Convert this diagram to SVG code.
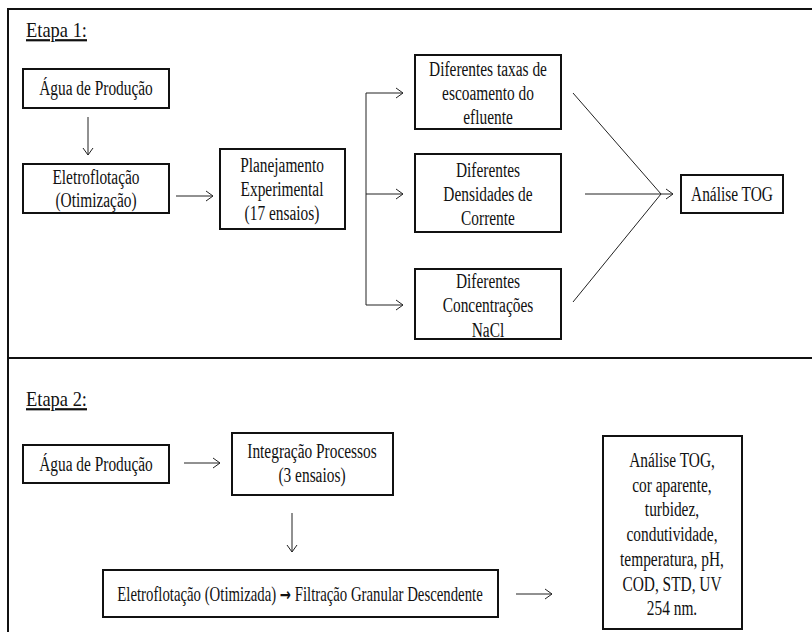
<svg xmlns="http://www.w3.org/2000/svg" width="812" height="632" viewBox="0 0 812 632">
<defs>
<marker id="ah" markerUnits="userSpaceOnUse" markerWidth="10" markerHeight="12" refX="8" refY="6" orient="auto">
<path d="M1,1 L8,6 L1,11" fill="none" stroke="#222" stroke-width="1"/>
</marker>
<style>
.box{fill:none;stroke:#111;stroke-width:2}
.t{font-family:'Liberation Serif','Times New Roman',serif;font-size:20px;fill:#111;text-anchor:middle}
.lbl{font-family:'Liberation Serif','Times New Roman',serif;font-size:22px;fill:#111;text-decoration:underline}
.c{fill:none;stroke:#222;stroke-width:1}
.frame{fill:none;stroke:#111;stroke-width:2}
</style>
</defs>
<rect width="812" height="632" fill="#fff"/>
<path class="frame" d="M8,632 V9 H813 M8,358 H813"/>
<text class="lbl" x="26" y="37" transform="translate(4.16,0) scale(0.84,1)">Etapa 1:</text>
<text class="lbl" x="26" y="406" transform="translate(4.16,0) scale(0.84,1)">Etapa 2:</text>

<g id="e1-agua">
<text class="t" x="96" y="95" transform="translate(22.08,0) scale(0.77,1)">Água de Produção</text>
<rect class="box" x="23" y="69" width="146" height="39"/>
</g>
<g id="e1-eletro">
<text class="t" transform="translate(22.08,0) scale(0.77,1)"><tspan x="96" y="184">Eletroflotação</tspan><tspan x="96" y="207">(Otimização)</tspan></text>
<rect class="box" x="23" y="164" width="146" height="49"/>
</g>
<g id="e1-planej">
<text class="t" transform="translate(64.86,0) scale(0.77,1)"><tspan x="282" y="172">Planejamento</tspan><tspan x="282" y="196">Experimental</tspan><tspan x="282" y="220">(17 ensaios)</tspan></text>
<rect class="box" x="220" y="149" width="125" height="80"/>
</g>
<g id="e1-taxas">
<text class="t" transform="translate(112.24,0) scale(0.77,1)"><tspan x="488" y="76">Diferentes taxas de</tspan><tspan x="488" y="100">escoamento do</tspan><tspan x="488" y="124">efluente</tspan></text>
<rect class="box" x="415" y="55" width="146" height="74"/>
</g>
<g id="e1-dens">
<text class="t" transform="translate(112.24,0) scale(0.77,1)"><tspan x="488" y="177">Diferentes</tspan><tspan x="488" y="201">Densidades de</tspan><tspan x="488" y="225">Corrente</tspan></text>
<rect class="box" x="415" y="154" width="146" height="78"/>
</g>
<g id="e1-nacl">
<text class="t" transform="translate(112.24,0) scale(0.77,1)"><tspan x="488" y="288">Diferentes</tspan><tspan x="488" y="312">Concentrações</tspan><tspan x="488" y="337">NaCl</tspan></text>
<rect class="box" x="415" y="269" width="146" height="70"/>
</g>
<g id="e1-tog">
<text class="t" x="732" y="201" transform="translate(168.36,0) scale(0.77,1)">Análise TOG</text>
<rect class="box" x="681" y="175" width="102" height="38"/>
</g>

<g id="e2-agua">
<text class="t" x="96" y="471" transform="translate(22.08,0) scale(0.77,1)">Água de Produção</text>
<rect class="box" x="23" y="445" width="146" height="38"/>
</g>
<g id="e2-integ">
<text class="t" transform="translate(71.76,0) scale(0.77,1)"><tspan x="312" y="458">Integração Processos</tspan><tspan x="312" y="482">(3 ensaios)</tspan></text>
<rect class="box" x="232" y="433" width="161" height="62"/>
</g>
<g id="e2-eletro">
<text class="t" x="300" y="601" transform="translate(78,0) scale(0.74,1)">Eletroflotação (Otimizada) <tspan font-weight="bold" font-family="DejaVu Sans, sans-serif" font-size="18">→</tspan> Filtração Granular Descendente</text>
<rect class="box" x="103" y="570" width="395" height="47"/>
</g>
<g id="e2-analise">
<text class="t" transform="translate(154.56,0) scale(0.77,1)"><tspan x="672" y="467">Análise TOG,</tspan><tspan x="672" y="492">cor aparente,</tspan><tspan x="672" y="516">turbidez,</tspan><tspan x="672" y="541">condutividade,</tspan><tspan x="672" y="566">temperatura, pH,</tspan><tspan x="672" y="591">COD, STD, UV</tspan><tspan x="672" y="615">254 nm.</tspan></text>
<rect class="box" x="603" y="436" width="139" height="193"/>
</g>

<g id="connectors">
<path class="c" d="M88,117 V155" marker-end="url(#ah)"/>
<path class="c" d="M176,196 H213" marker-end="url(#ah)"/>
<path class="c" d="M366,93 V305"/>
<path class="c" d="M366,93 H403" marker-end="url(#ah)"/>
<path class="c" d="M366,194 H403" marker-end="url(#ah)"/>
<path class="c" d="M366,305 H403" marker-end="url(#ah)"/>
<path class="c" d="M573,93 L661,194"/>
<path class="c" d="M573,302 L661,194"/>
<path class="c" d="M585,194 H673" marker-end="url(#ah)"/>
<path class="c" d="M184,463 H220" marker-end="url(#ah)"/>
<path class="c" d="M292,513 V552" marker-end="url(#ah)"/>
<path class="c" d="M516,594 H552" marker-end="url(#ah)"/>
</g>
</svg>
